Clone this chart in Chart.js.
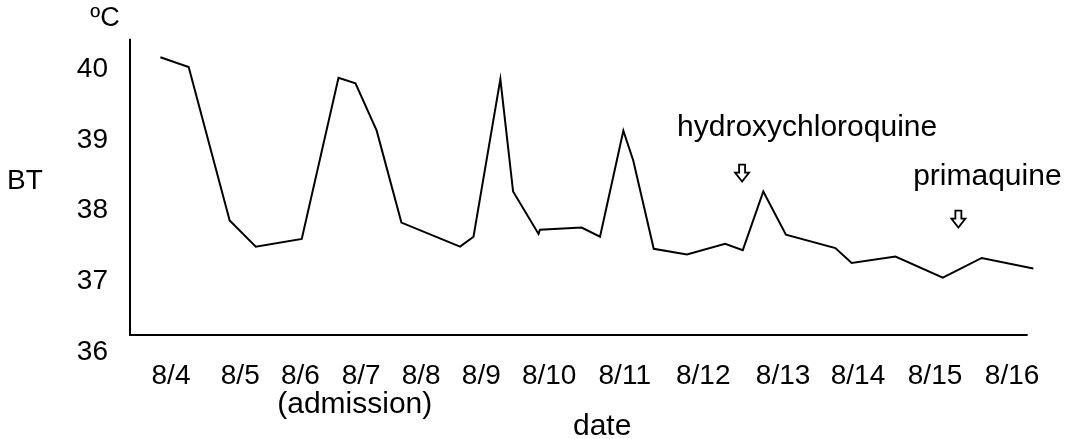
<!DOCTYPE html>
<html>
<head>
<meta charset="utf-8">
<script src="https://cdn.jsdelivr.net/npm/chart.js@4.4.1/dist/chart.umd.min.js"></script>
<style>
  body { margin: 0; background: #fff; }
</style>
</head>
<body>
<canvas id="chart" width="1075" height="439"></canvas>
<script>
// dates on the x axis and where they sit (days after the 8/4 label, not evenly spaced in the figure)
let dateLabels = ['8/4', '8/5', '8/6', '8/7', '8/8', '8/9', '8/10', '8/11', '8/12', '8/13', '8/14', '8/15', '8/16'];
let datePos = [0, 0.98, 1.83, 2.69, 3.54, 4.39, 5.35, 6.42, 7.53, 8.66, 9.72, 10.81, 11.9];

// body temperature readings
let timeX = [-0.15, 0.25, 0.83, 1.2, 1.85, 2.37, 2.61, 2.91, 3.26, 4.09, 4.28, 4.66, 4.84, 5.2, 5.22, 5.81,
  6.07, 6.4, 6.54, 6.83, 7.3, 7.84, 8.09, 8.38, 8.7, 9.4, 9.63, 10.25, 10.92, 11.47, 12.2];
let tempBT = [40.17, 40.03, 37.86, 37.49, 37.6, 39.88, 39.8, 39.13, 37.83, 37.49, 37.63, 39.86, 38.27, 37.67, 37.73, 37.76,
  37.63, 39.13, 38.71, 37.46, 37.38, 37.53, 37.44, 38.27, 37.66, 37.47, 37.26, 37.35, 37.05, 37.33, 37.18];

let tempTicks = [36, 37, 38, 39, 40];

// drug start markers
let drugNames = ['hydroxychloroquine', 'primaquine'];
let drugDay = [8.08, 11.14];

const FONT = '"Liberation Sans", Arial, sans-serif';

let points = timeX.map((x, i) => ({ x: x, y: tempBT[i] }));

function downArrow(ctx, cx, top) {
  // hollow arrow pointing down
  ctx.beginPath();
  ctx.moveTo(cx - 3, top);
  ctx.lineTo(cx + 3, top);
  ctx.lineTo(cx + 3, top + 8);
  ctx.lineTo(cx + 7, top + 8);
  ctx.lineTo(cx, top + 17);
  ctx.lineTo(cx - 7, top + 8);
  ctx.lineTo(cx - 3, top + 8);
  ctx.closePath();
  ctx.stroke();
}

const extras = {
  id: 'extras',
  afterDraw(c) {
    let ctx = c.ctx;
    let xs = c.scales.x, ys = c.scales.y;
    let left = xs.left;
    let base = ys.getPixelForValue(36.24);
    let right = xs.getPixelForValue(12.12);

    ctx.save();
    ctx.strokeStyle = '#000';
    ctx.lineWidth = 2;
    ctx.beginPath();
    ctx.moveTo(left, ys.top);
    ctx.lineTo(left, base);
    ctx.lineTo(right, base);
    ctx.stroke();

    ctx.fillStyle = '#000';
    ctx.textBaseline = 'middle';
    ctx.textAlign = 'center';
    ctx.font = '27px ' + FONT;
    ctx.fillText('\u00baC', 105, 19);
    ctx.font = '28px ' + FONT;
    ctx.fillText('BT', 25, 181);
    ctx.font = '30px ' + FONT;
    ctx.fillText('(admission)', xs.getPixelForValue(2.6), ys.bottom + 53);
    ctx.fillText('date', xs.getPixelForValue(6.1), ys.bottom + 75);

    // annotations
    ctx.fillText(drugNames[0], xs.getPixelForValue(9.0), ys.getPixelForValue(39.17));
    ctx.fillText(drugNames[1], xs.getPixelForValue(11.55), ys.getPixelForValue(38.48));
    ctx.lineWidth = 1.8;
    downArrow(ctx, xs.getPixelForValue(drugDay[0]), ys.getPixelForValue(38.65));
    downArrow(ctx, xs.getPixelForValue(drugDay[1]), ys.getPixelForValue(38.0));
    ctx.restore();
  }
};

new Chart(document.getElementById('chart'), {
  type: 'line',
  data: {
    datasets: [{
      data: points,
      borderColor: '#000',
      borderWidth: 2,
      pointRadius: 0,
      tension: 0,
      clip: false
    }]
  },
  options: {
    responsive: false,
    animation: false,
    layout: { padding: { top: 33, right: 41, left: 0, bottom: 0 } },
    plugins: { legend: { display: false }, tooltip: { enabled: false } },
    scales: {
      x: {
        type: 'linear',
        min: -0.58,
        max: 12.21,
        border: { display: false },
        grid: { display: false, drawTicks: false },
        afterBuildTicks: s => { s.ticks = datePos.map(v => ({ value: v })); },
        afterFit: s => { s.height = 87; },
        ticks: {
          autoSkip: false,
          maxRotation: 0,
          padding: 7,
          color: '#000',
          font: { family: FONT, size: 28 },
          callback: (v, i) => dateLabels[i]
        }
      },
      y: {
        min: 36,
        max: 40.43,
        border: { display: false },
        grid: { display: false, drawTicks: false },
        afterBuildTicks: s => { s.ticks = tempTicks.map(v => ({ value: v })); },
        afterFit: s => { s.width = 130; },
        ticks: {
          padding: 22,
          color: '#000',
          font: { family: FONT, size: 28 }
        }
      }
    }
  },
  plugins: [extras]
});
</script>
</body>
</html>
